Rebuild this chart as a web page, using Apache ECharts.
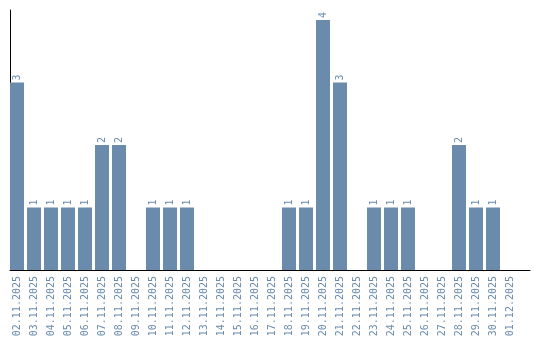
<!DOCTYPE html>
<html><head><meta charset="utf-8">
<script src="https://cdn.jsdelivr.net/npm/echarts@6/dist/echarts.min.js"></script>
<style>html,body{margin:0;padding:0;background:#fff}#c{width:540px;height:340px}</style>
</head><body><div id="c"></div>
<script>
const categories = ["02.11.2025","03.11.2025","04.11.2025","05.11.2025","06.11.2025","07.11.2025","08.11.2025","09.11.2025","10.11.2025","11.11.2025","12.11.2025","13.11.2025","14.11.2025","15.11.2025","16.11.2025","17.11.2025","18.11.2025","19.11.2025","20.11.2025","21.11.2025","22.11.2025","23.11.2025","24.11.2025","25.11.2025","26.11.2025","27.11.2025","28.11.2025","29.11.2025","30.11.2025","01.12.2025"];
const values = [3,1,1,1,1,2,2,0,1,1,1,0,0,0,0,0,1,1,4,3,0,1,1,1,0,0,2,1,1,0];
const chart = echarts.init(document.getElementById('c'), null, {renderer:'canvas'});
const col = '#6a8bab';
chart.setOption({
  animation:false,
  grid:[
    {left:8.5,right:21.5,top:10,bottom:70,containLabel:false},
    {left:10,right:10,top:10,bottom:70,containLabel:false}
  ],
  xAxis:[
    {type:'category',data:categories,gridIndex:0,
      axisLine:{show:false},axisTick:{show:false},
      axisLabel:{rotate:90,color:col,fontFamily:'DejaVu Sans Mono',fontSize:10,margin:6,interval:0}},
    {type:'value',gridIndex:1,min:0,max:1,axisLine:{show:true,lineStyle:{color:'#000',width:1}},
      axisTick:{show:false},axisLabel:{show:false},splitLine:{show:false}}
  ],
  yAxis:[
    {type:'value',gridIndex:0,min:0,max:4.16,axisLine:{show:false},
      axisTick:{show:false},axisLabel:{show:false},splitLine:{show:false}},
    {type:'value',gridIndex:1,min:0,max:1,axisLine:{show:true,lineStyle:{color:'#000',width:1}},
      axisTick:{show:false},axisLabel:{show:false},splitLine:{show:false}}
  ],
  series:[{type:'bar',data:values,barWidth:14,itemStyle:{color:col},xAxisIndex:0,yAxisIndex:0,
    label:{show:true,position:'top',rotate:90,align:'left',verticalAlign:'middle',distance:2,
      color:col,fontFamily:'DejaVu Sans Mono',fontSize:10,
      formatter:p=>p.value>0?String(p.value):''}}]
});
</script></body></html>
